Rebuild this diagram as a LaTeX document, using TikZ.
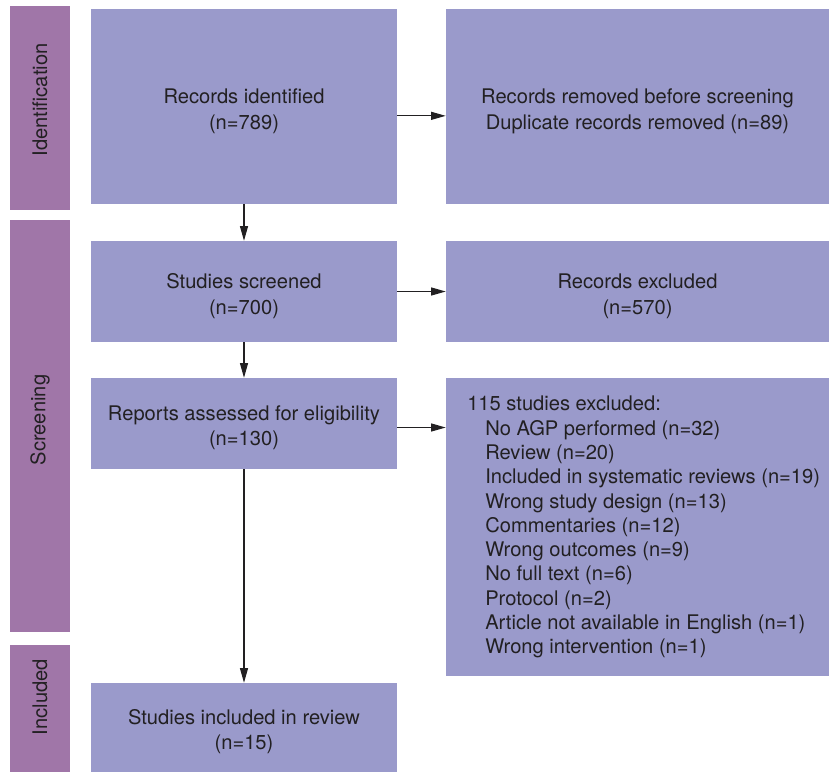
\documentclass[tikz,border=0pt]{standalone}
\usepackage{fontspec}
\setmainfont{TeX Gyre Heros}
\usepackage{xcolor}
\usetikzlibrary{arrows.meta}

\definecolor{boxblue}{RGB}{154,154,203}
\definecolor{phasepurple}{RGB}{160,118,168}
\definecolor{inkgray}{RGB}{34,32,34}

\newcommand{\reason}[1]{\hspace*{13.5pt}#1}

\tikzset{
  flowbox/.style={fill=boxblue, inner sep=0pt},
  flowtext/.style={inner sep=0pt, align=center, text=inkgray,
    font=\fontsize{15.1}{19}\selectfont},
  phasebar/.style={fill=phasepurple, inner sep=0pt, minimum width=60*0.75pt},
  phaselabel/.style={rotate=90, text=inkgray},
  arr/.style={-{Triangle[length=11pt,width=6pt]}, line width=0.9pt, draw=inkgray}
}

\begin{document}
\begin{tikzpicture}[x=0.75pt,y=0.75pt,yscale=-1,xscale=1,
  every node/.append style={font=\fontsize{15.1}{18.2}\selectfont}]
        \useasboundingbox (0,0) rectangle (829,772);

        % phase bars
        \node [phasebar, minimum height=204*0.75pt] (identbar) at (40,108) {};
        \node [phasebar, minimum height=412*0.75pt] (screenbar) at (40,426) {};
        \node [phasebar, minimum height=127*0.75pt] (inclbar) at (40,708.5) {};
        \node [phaselabel] (identlabel) at (40,100) {Identification};
        \node [phaselabel] (screenlabel) at (40,420) {Screening};
        \node [phaselabel] (incllabel) at (40,697) {Included};

        % boxes
        \node [flowbox, minimum width=306*0.75pt, minimum height=195*0.75pt] (identified) at (244,106.5) {};
        \node [flowbox, minimum width=383*0.75pt, minimum height=195*0.75pt] (removed) at (637.5,106.5) {};
        \node [flowbox, minimum width=306*0.75pt, minimum height=101*0.75pt] (screened) at (244,291.5) {};
        \node [flowbox, minimum width=383*0.75pt, minimum height=101*0.75pt] (excluded) at (637.5,291.5) {};
        \node [flowbox, minimum width=306*0.75pt, minimum height=91*0.75pt] (assessed) at (244,423.5) {};
        \node [flowbox, minimum width=383*0.75pt, minimum height=298*0.75pt] (reasons) at (637.5,527) {};
        \node [flowbox, minimum width=306*0.75pt, minimum height=89*0.75pt] (included) at (244,727.5) {};

        % box texts
        \node [flowtext] (identifiedtxt) at ([yshift=3.5pt]identified.center) {Records identified\\(n=789)};
        \node [flowtext] (removedtxt) at ([yshift=3.5pt]removed.center) {Records removed before screening\\Duplicate records removed (n=89)};
        \node [flowtext] (screenedtxt) at ([yshift=3.5pt]screened.center) {Studies screened\\(n=700)};
        \node [flowtext] (excludedtxt) at ([yshift=3.5pt]excluded.center) {Records excluded\\(n=570)};
        \node [flowtext] (assessedtxt) at ([yshift=3pt]assessed.center) {Reports assessed for eligibility\\(n=130)};
        \node [flowtext] (includedtxt) at ([yshift=3pt]included.center) {Studies included in review\\(n=15)};
        \node [anchor=north west, inner sep=0pt, align=left, text=inkgray] (reasonlist) at (467,396) {115 studies excluded:\\
          \reason{No AGP performed (n=32)}\\
          \reason{Review (n=20)}\\
          \reason{Included in systematic reviews (n=19)}\\
          \reason{Wrong study design (n=13)}\\
          \reason{Commentaries (n=12)}\\
          \reason{Wrong outcomes (n=9)}\\
          \reason{No full text (n=6)}\\
          \reason{Protocol (n=2)}\\
          \reason{Article not available in English (n=1)}\\
          \reason{Wrong intervention (n=1)}};

        % arrows
        \draw [arr] ([yshift=7pt]identified.east) -- ([yshift=7pt]removed.west);
        \draw [arr] (screened.east) -- (excluded.west);
        \draw [arr] ([yshift=3pt]assessed.east) -- ([yshift=3pt]assessed.east -| reasons.west);
        \draw [arr] (identified.south) -- (screened.north);
        \draw [arr] (screened.south) -- (assessed.north);
        \draw [arr] (assessed.south) -- (included.north);
\end{tikzpicture}
\end{document}
